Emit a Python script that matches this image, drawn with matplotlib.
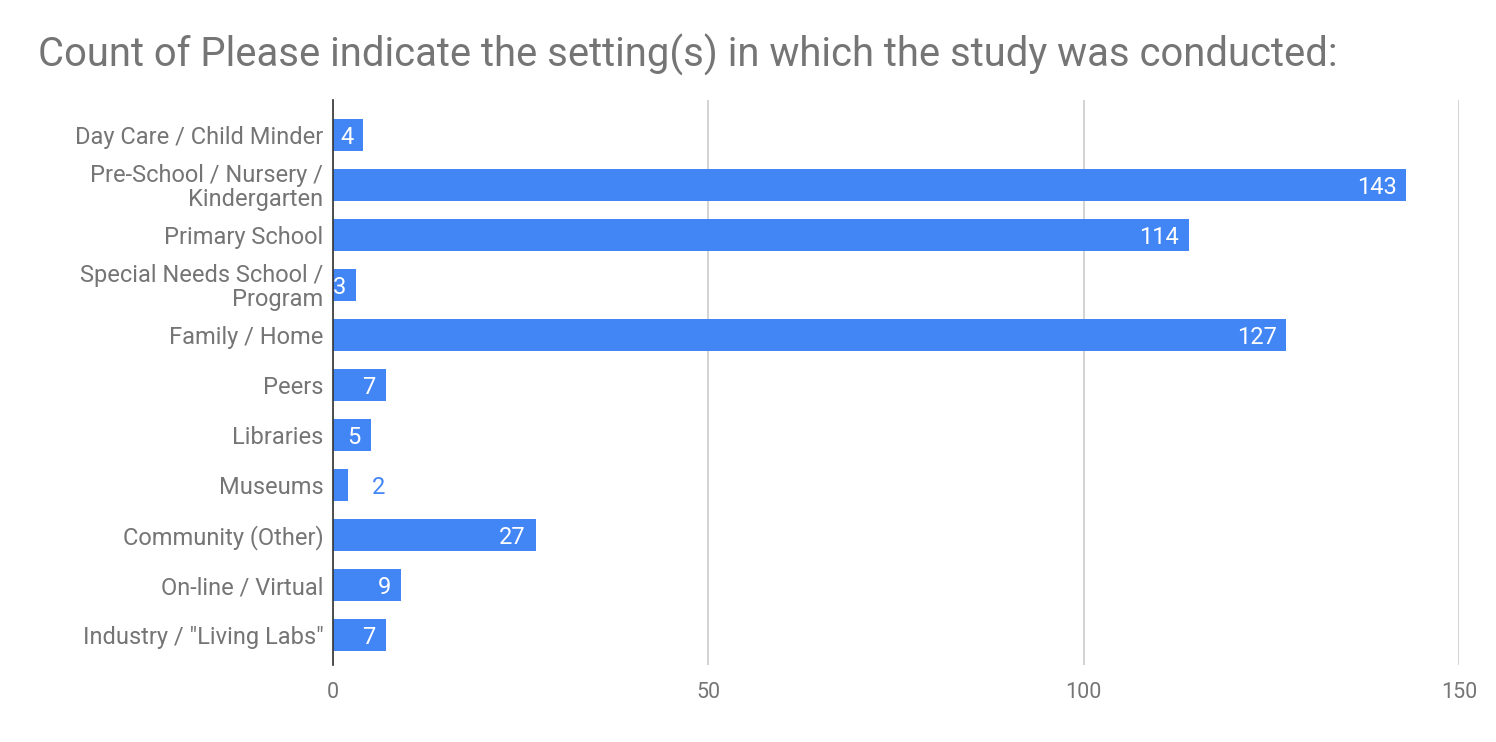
import matplotlib.pyplot as plt

plt.rcParams['font.family'] = ['Roboto', 'DejaVu Sans']

settings = ['Day Care / Child Minder', 'Pre-School / Nursery /\nKindergarten', 'Primary School',
            'Special Needs School /\nProgram', 'Family / Home', 'Peers', 'Libraries', 'Museums',
            'Community (Other)', 'On-line / Virtual', 'Industry / "Living Labs"']
counts = [4, 143, 114, 3, 127, 7, 5, 2, 27, 9, 7]
x_ticks = [0, 50, 100, 150]

bar_color = '#4285f4'
grey = '#757575'

fig = plt.figure(figsize=(14.96, 7.42), dpi=100)
ax = fig.add_axes([333 / 1496, 1 - 665 / 742, (1459 - 333) / 1496, 565 / 742])

pos = list(range(len(settings)))
ax.barh(pos, counts, height=0.64, color=bar_color, zorder=3)

# value labels: inside the bar end, or outside if the bar is too short
for y, v in zip(pos, counts):
    if v >= 3:
        ax.text(v - 1.3, y, str(v), color='white', fontsize=17, ha='right',
                va='center_baseline', zorder=4)
    else:
        ax.text(v + 3.2, y, str(v), color=bar_color, fontsize=17, ha='left',
                va='center_baseline', zorder=4)

ax.set_xlim(0, 150)
ax.set_ylim(10.6, -0.7)
ax.set_xticks(x_ticks)
ax.set_xticklabels([str(t) for t in x_ticks], fontsize=15.5, color=grey)
ax.set_yticks(pos)
ax.set_yticklabels(settings, fontsize=17, color=grey, linespacing=1.05)
ax.tick_params(axis='x', length=0, pad=12)
ax.tick_params(axis='y', length=0, pad=7)

ax.grid(axis='x', color='#cccccc', linewidth=1.2, zorder=0)
for s in ['top', 'right', 'bottom']:
    ax.spines[s].set_visible(False)
ax.spines['left'].set_color('#333333')
ax.spines['left'].set_linewidth(1.2)
ax.spines['left'].set_zorder(5)

fig.text(38 / 1496, 1 - 55 / 742, 'Count of Please indicate the setting(s) in which the study was conducted:',
         fontsize=28.8, color=grey, ha='left', va='center')

fig.savefig('out.png', dpi=100)
